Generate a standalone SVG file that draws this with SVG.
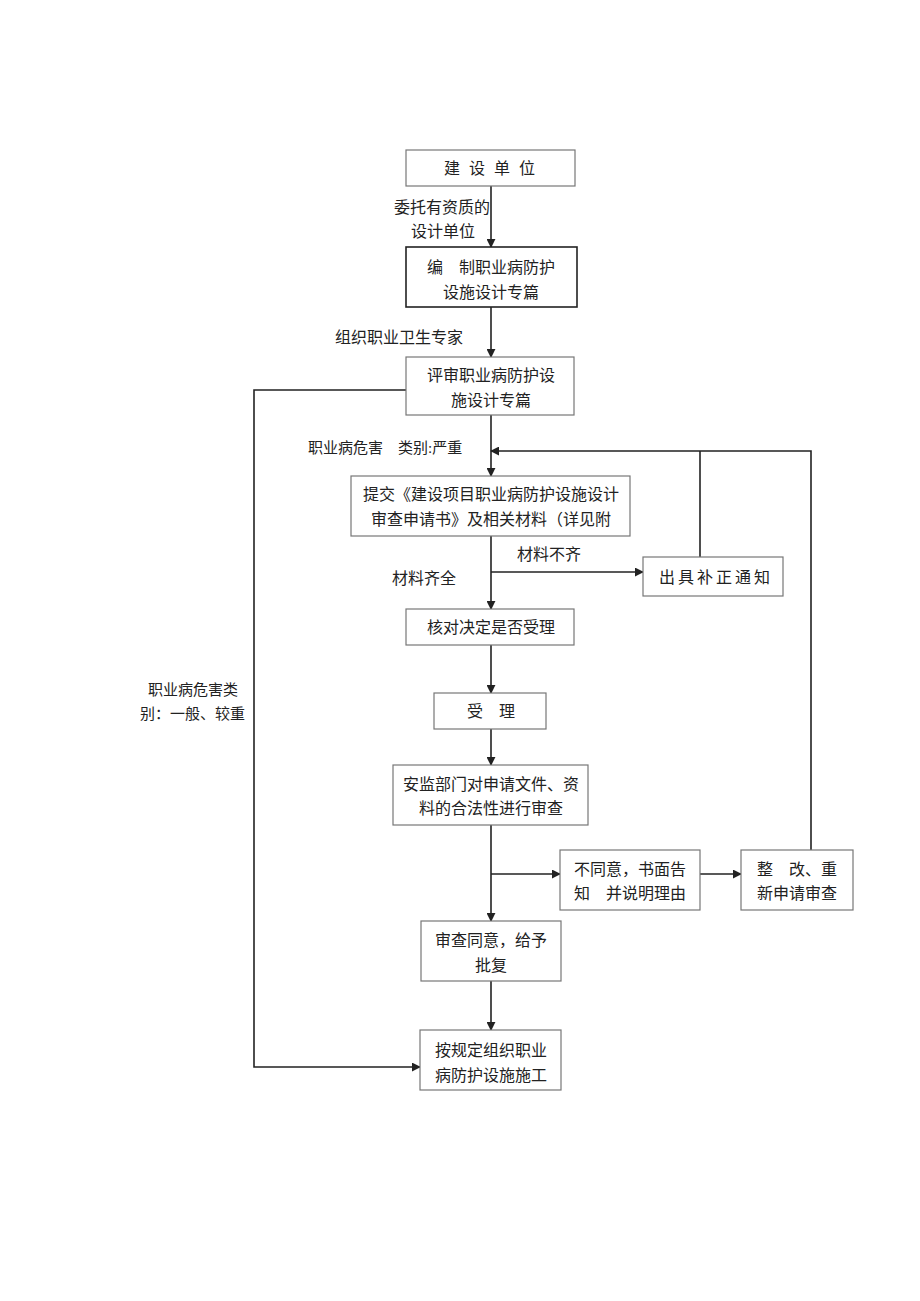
<svg xmlns="http://www.w3.org/2000/svg" width="920" height="1301" viewBox="0 0 920 1301">
<style>
text{font-family:"Liberation Serif","Noto Sans CJK SC",serif;font-size:16px;fill:#222;}
.s{font-size:15px;}
.b{fill:#fff;stroke:#777;stroke-width:1.2;}
.bd{fill:#fff;stroke:#222;stroke-width:1.6;}
.c{fill:none;stroke:#222;stroke-width:1.6;}
.m{text-anchor:middle;}
</style>
<defs>
<marker id="a" viewBox="0 0 10 10" refX="9" refY="5" markerWidth="9" markerHeight="9" markerUnits="userSpaceOnUse" orient="auto"><path d="M0,0 L10,5 L0,10 z" fill="#222"/></marker>
</defs>
<rect width="920" height="1301" fill="#fff"/>
<g id="connectors">
<path class="c" d="M491,186 V247" marker-end="url(#a)"/>
<path class="c" d="M491,307 V357" marker-end="url(#a)"/>
<path class="c" d="M491,415 V476" marker-end="url(#a)"/>
<path class="c" d="M491,536 V609" marker-end="url(#a)"/>
<path class="c" d="M491,572 H643" marker-end="url(#a)"/>
<path class="c" d="M491,645 V693" marker-end="url(#a)"/>
<path class="c" d="M491,729 V765" marker-end="url(#a)"/>
<path class="c" d="M491,825 V921" marker-end="url(#a)"/>
<path class="c" d="M491,874 H560" marker-end="url(#a)"/>
<path class="c" d="M700,874 H741" marker-end="url(#a)"/>
<path class="c" d="M491,981 V1030" marker-end="url(#a)"/>
<path class="c" d="M811,850 V451 H491" marker-end="url(#a)"/>
<path class="c" d="M700,557 V451"/>
<path class="c" d="M406,390 H254 V1067 H420" marker-end="url(#a)"/>
</g>
<g id="n1"><rect class="b" x="406" y="150" width="169" height="36"/><text class="m" x="494" y="174" letter-spacing="9">建设单位</text></g>
<g id="n2"><rect class="bd" x="406" y="247" width="171" height="60"/><text x="427" y="273">编　制职业病防护</text><text class="m" x="491" y="298">设施设计专篇</text></g>
<g id="n3"><rect class="b" x="406" y="357" width="168" height="58"/><text class="m" x="491" y="381">评审职业病防护设</text><text class="m" x="491" y="406">施设计专篇</text></g>
<g id="n4"><rect class="b" x="351" y="476" width="279" height="60"/><text class="m" x="491" y="500">提交《建设项目职业病防护设施设计</text><text class="m" x="491" y="525">审查申请书》及相关材料（详见附</text></g>
<g id="n5"><rect class="b" x="643" y="557" width="140" height="39"/><text class="m" x="716" y="583" letter-spacing="3">出具补正通知</text></g>
<g id="n6"><rect class="b" x="406" y="609" width="168" height="36"/><text class="m" x="491" y="633">核对决定是否受理</text></g>
<g id="n7"><rect class="b" x="434" y="693" width="112" height="36"/><text class="m" x="491" y="717">受　理</text></g>
<g id="n8"><rect class="b" x="393" y="765" width="195" height="60"/><text class="m" x="491" y="790">安监部门对申请文件、资</text><text class="m" x="491" y="814">料的合法性进行审查</text></g>
<g id="n9"><rect class="b" x="560" y="850" width="140" height="60"/><text class="m" x="630" y="875">不同意，书面告</text><text class="m" x="630" y="899">知　并说明理由</text></g>
<g id="n10"><rect class="b" x="741" y="850" width="112" height="60"/><text class="m" x="797" y="875">整　改、重</text><text class="m" x="797" y="899">新申请审查</text></g>
<g id="n11"><rect class="b" x="421" y="921" width="140" height="60"/><text class="m" x="491" y="946">审查同意，给予</text><text class="m" x="491" y="971">批复</text></g>
<g id="n12"><rect class="b" x="420" y="1030" width="141" height="60"/><text class="m" x="491" y="1056">按规定组织职业</text><text class="m" x="491" y="1081">病防护设施施工</text></g>
<g id="labels">
<text x="394" y="213">委托有资质的</text>
<text x="411" y="237">设计单位</text>
<text x="335" y="343">组织职业卫生专家</text>
<text class="s" x="308" y="453">职业病危害　类别:严重</text>
<text x="517" y="560">材料不齐</text>
<text x="392" y="584">材料齐全</text>
<text class="s" x="148" y="695">职业病危害类</text>
<text class="s" x="140" y="719">别：一般、较重</text>
</g>
</svg>
